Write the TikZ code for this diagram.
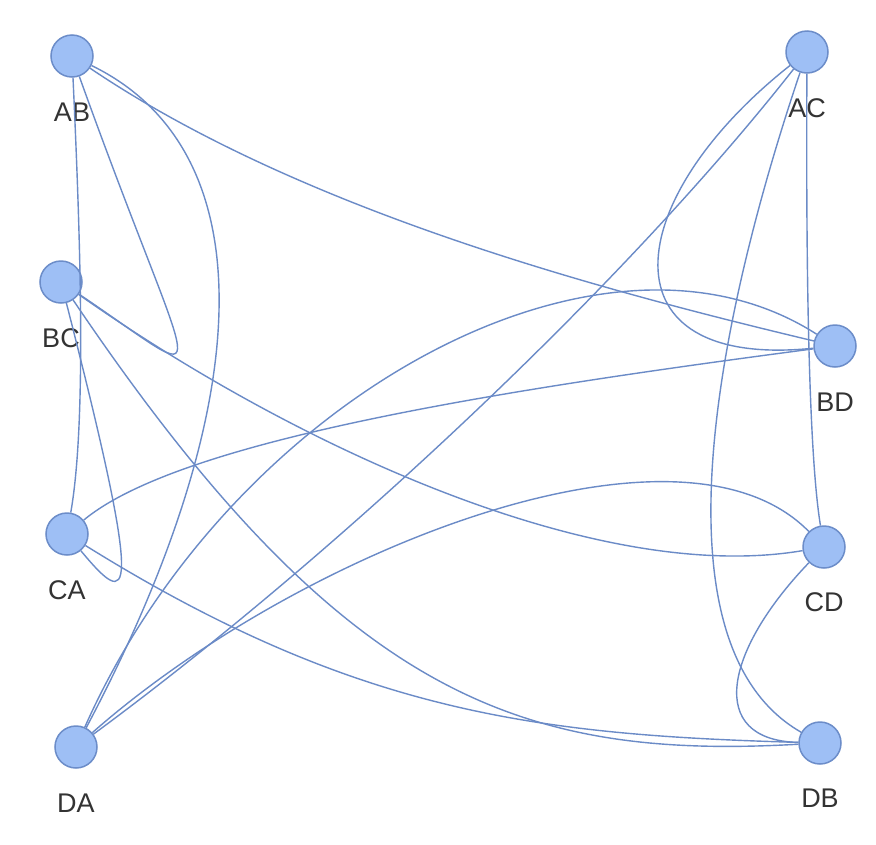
\documentclass[tikz,border=0pt]{standalone}
\usepackage{fontspec}
\setmainfont{Liberation Sans}
\definecolor{nodefill}{RGB}{158,191,245}
\definecolor{nodeline}{RGB}{108,141,201}
\definecolor{edgecol}{RGB}{107,139,199}
\definecolor{txt}{RGB}{51,51,51}
\begin{document}
\begin{tikzpicture}[x=1pt,y=-1pt,
  vert/.style={circle,draw=nodeline,fill=nodefill,line width=1.5pt,minimum size=42pt,inner sep=0pt},
  lbl/.style={text=txt,font=\fontsize{27}{29}\selectfont,inner sep=0pt,anchor=center},
  edge/.style={draw=edgecol,line width=1.4pt}]
\useasboundingbox (0,0) rectangle (876,844);
\fill[white] (0,0) rectangle (876,844);
% nodes
\node[vert] (AB) at (72,56) {};
\node[vert] (BC) at (61,282) {};
\node[vert] (CA) at (67,534) {};
\node[vert] (DA) at (76,747) {};
\node[vert] (AC) at (807,52) {};
\node[vert] (BD) at (835,346) {};
\node[vert] (CD) at (824,547) {};
\node[vert] (DB) at (820,743) {};
% labels
\node[lbl] (lAB) at (72,112) {AB};
\node[lbl] (lBC) at (61,338) {BC};
\node[lbl] (lCA) at (67,590) {CA};
\node[lbl] (lDA) at (76,803) {DA};
\node[lbl] (lAC) at (807,108) {AC};
\node[lbl] (lBD) at (835,402) {BD};
\node[lbl] (lCD) at (824,602) {CD};
\node[lbl] (lDB) at (820,798) {DB};
% edges
\path[edge] (AB) .. controls (80,230) and (87,420) .. (CA);
\path[edge] (AB) .. controls (196,402) and (224,392) .. (BC);
\path[edge] (AB) .. controls (300,210) and (600,290) .. (BD);
\path[edge] (AB) .. controls (265,150) and (260,400) .. (DA);
\path[edge] (BC) .. controls (145,610) and (130,610) .. (CA);
\path[edge] (BC) .. controls (300,450) and (600,585) .. (CD);
\path[edge] (BC) .. controls (341,697) and (520,760) .. (DB);
\path[edge] (CA) .. controls (180,440) and (500,390) .. (BD);
\path[edge] (CA) .. controls (356,714) and (540,735) .. (DB);
\path[edge] (DA) .. controls (330,560) and (620,290) .. (AC);
\path[edge] (DA) .. controls (230,400) and (600,195) .. (BD);
\path[edge] (DA) .. controls (300,550) and (680,400) .. (CD);
\path[edge] (AC) .. controls (620,200) and (600,370) .. (BD);
\path[edge] (AC) .. controls (806,250) and (808,450) .. (CD);
\path[edge] (AC) .. controls (730,280) and (640,640) .. (DB);
\path[edge] (CD) .. controls (725,650) and (705,740) .. (DB);
\end{tikzpicture}
\end{document}
